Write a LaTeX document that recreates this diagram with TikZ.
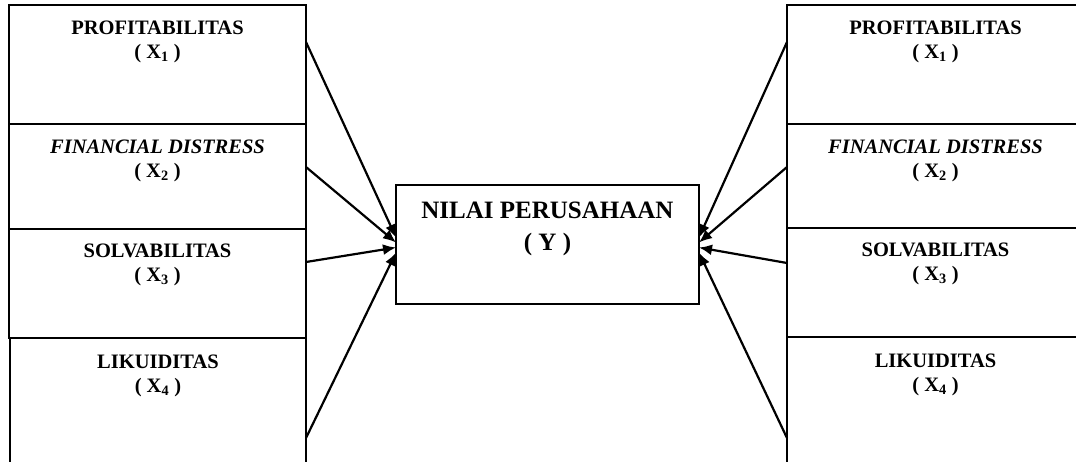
\documentclass[tikz,border=0pt]{standalone}
\usepackage{fontspec}
\setmainfont{Liberation Serif}
\usetikzlibrary{arrows.meta}
\begin{document}
\begin{tikzpicture}[x=1pt,y=-1pt,
  box/.style={draw=black,line width=2.2pt,rectangle,inner sep=0pt,outer sep=0pt},
  lbl/.style={inner sep=0pt,align=center,anchor=north,font=\fontsize{20.5}{24}\selectfont\bfseries},
  clbl/.style={inner sep=0pt,align=center,anchor=north,font=\fontsize{25}{32}\selectfont\bfseries},
  arr/.style={line width=2.2pt,-{Latex[length=13pt,width=11pt]}}]
\useasboundingbox (0,0) rectangle (1076,461);
% left boxes
\node[box,minimum width=297pt,minimum height=119pt] (L1) at (157.5,64.5) {};
\node[box,minimum width=297pt,minimum height=105pt] (L2) at (157.5,176.5) {};
\node[box,minimum width=297pt,minimum height=109pt] (L3) at (157.5,283.5) {};
\node[box,minimum width=296pt,minimum height=140pt] (L4) at (158,408) {};
% right boxes
\node[box,minimum width=297pt,minimum height=119pt] (R1) at (935.5,64.5) {};
\node[box,minimum width=297pt,minimum height=104pt] (R2) at (935.5,176) {};
\node[box,minimum width=297pt,minimum height=109pt] (R3) at (935.5,282.5) {};
\node[box,minimum width=297pt,minimum height=140pt] (R4) at (935.5,407) {};
% centre
\node[box,minimum width=303pt,minimum height=119pt] (C) at (547.5,244.5) {};
% labels
\node[lbl] (tL1) at ([yshift=-15.5pt]L1.north) {PROFITABILITAS\\( X\textsubscript{1} )};
\node[lbl] (tL2) at ([yshift=-15.5pt]L2.north) {\itshape FINANCIAL DISTRESS\\( X\textsubscript{2} )};
\node[lbl] (tL3) at ([yshift=-14.5pt]L3.north) {SOLVABILITAS\\( X\textsubscript{3} )};
\node[lbl] (tL4) at ([yshift=-16.5pt]L4.north) {LIKUIDITAS\\( X\textsubscript{4} )};
\node[lbl] (tR1) at ([yshift=-15.5pt]R1.north) {PROFITABILITAS\\( X\textsubscript{1} )};
\node[lbl] (tR2) at ([yshift=-15.5pt]R2.north) {\itshape FINANCIAL DISTRESS\\( X\textsubscript{2} )};
\node[lbl] (tR3) at ([yshift=-14.5pt]R3.north) {SOLVABILITAS\\( X\textsubscript{3} )};
\node[lbl] (tR4) at ([yshift=-16.5pt]R4.north) {LIKUIDITAS\\( X\textsubscript{4} )};
\node[clbl] (tC) at ([yshift=-16.3pt]C.north) {NILAI PERUSAHAAN\\( Y )};
% connectors
\draw[arr] ([yshift=-37pt]L1.north east) -- ([yshift=7pt]C.west);
\draw[arr] ([yshift=-43pt]L2.north east) -- ([yshift=2pt]C.west);
\draw[arr] ([yshift=-33pt]L3.north east) -- ([yshift=-3pt]C.west);
\draw[arr] ([yshift=-100pt]L4.north east) -- ([yshift=-8pt]C.west);
\draw[arr] ([yshift=-37pt]R1.north west) -- ([yshift=7pt]C.east);
\draw[arr] ([yshift=-43pt]R2.north west) -- ([yshift=2pt]C.east);
\draw[arr] ([yshift=-35pt]R3.north west) -- ([yshift=-3pt]C.east);
\draw[arr] ([yshift=-101pt]R4.north west) -- ([yshift=-8pt]C.east);
\end{tikzpicture}
\end{document}
